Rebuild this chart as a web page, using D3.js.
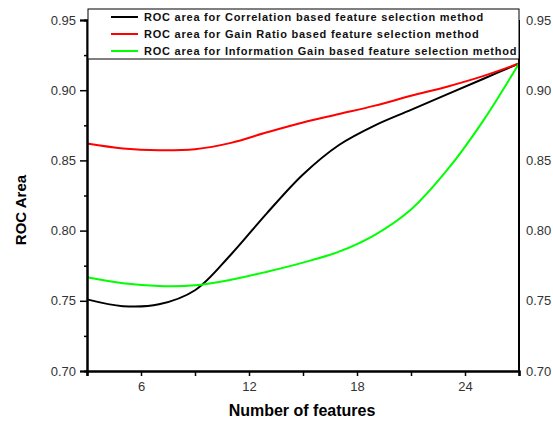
<!DOCTYPE html>
<html>
<head>
<meta charset="utf-8">
<script src="https://cdn.jsdelivr.net/npm/d3@7"></script>
<style>
body { margin: 0; background: #fff; }
svg { display: block; font-family: Arial, "Liberation Sans", sans-serif; }
</style>
</head>
<body>
<svg width="553" height="421"></svg>
<script>
// values
var features = [3, 5, 7, 9, 11, 13, 15, 17, 19, 21, 23, 25, 27];
var correlation = [0.751, 0.7462, 0.7475, 0.7575, 0.783, 0.8125, 0.840, 0.861, 0.875, 0.886, 0.897, 0.908, 0.919];
var gainRatio = [0.862, 0.8585, 0.8572, 0.858, 0.8625, 0.8700, 0.877, 0.883, 0.889, 0.896, 0.9025, 0.910, 0.919];
var infoGain = [0.7667, 0.7625, 0.7605, 0.761, 0.765, 0.7707, 0.7772, 0.785, 0.797, 0.815, 0.843, 0.878, 0.919];

var xTicks = [6, 12, 18, 24];
var xMinor = [3, 9, 15, 21, 27];
var yTicks = [0.70, 0.75, 0.80, 0.85, 0.90, 0.95];
var yMinor = [0.725, 0.775, 0.825, 0.875, 0.925];

var seriesNames = [
  "ROC area for Correlation based feature selection method",
  "ROC area for Gain Ratio based feature selection method",
  "ROC area for Information Gain based feature selection method"
];
var seriesColors = ["#000000", "#ff0000", "#00ff00"];
var seriesValues = [correlation, gainRatio, infoGain];

(function(){
  var svg = d3.select("svg");
  var pLeft = 87, pRight = 519, pTop = 20, pBottom = 371;

  var x = d3.scaleLinear().domain([3, 27]).range([pLeft, pRight]);
  var y = d3.scaleLinear().domain([0.70, 0.95]).range([pBottom, pTop]);

  //curves
  var line = d3.line()
    .x(function(d){ return x(d[0]); })
    .y(function(d){ return y(d[1]); })
    .curve(d3.curveCatmullRom.alpha(0.5));

  seriesValues.forEach(function(vals, i){
    svg.append("path")
      .datum(features.map(function(f, j){ return [f, vals[j]]; }))
      .attr("d", line)
      .attr("fill", "none")
      .attr("stroke", seriesColors[i])
      .attr("stroke-width", 2);
  });

  //axes
  svg.append("g").attr("transform", "translate(0," + pBottom + ")")
    .call(d3.axisBottom(x).tickValues(xTicks).tickSize(5).tickPadding(6).tickFormat(d3.format("d")));
  svg.append("g").attr("transform", "translate(0," + pBottom + ")")
    .call(d3.axisBottom(x).tickValues(xMinor).tickSize(5).tickFormat(""));

  svg.append("g").attr("transform", "translate(" + pLeft + ",0)")
    .call(d3.axisLeft(y).tickValues(yTicks).tickSize(7).tickPadding(4).tickFormat(d3.format(".2f")));
  svg.append("g").attr("transform", "translate(" + pLeft + ",0)")
    .call(d3.axisLeft(y).tickValues(yMinor).tickSize(3).tickFormat(""));

  var yRight = svg.append("g").attr("transform", "translate(" + pRight + ",0)")
    .call(d3.axisRight(y).tickValues(yTicks).tickSize(0).tickPadding(7).tickFormat(d3.format(".2f")));

  svg.selectAll(".domain").attr("stroke", "#000").attr("stroke-width", 2);
  svg.selectAll(".tick line").attr("stroke", "#000").attr("stroke-width", 1.5);
  svg.selectAll(".tick text").attr("fill", "#333").style("font-size", "13px").style("font-family", "Arial, 'Liberation Sans', sans-serif");
  yRight.selectAll(".domain").attr("d", "M0," + pTop + "V" + (pBottom + 1));

  //legend
  var legend = svg.append("g");
  legend.append("rect")
    .attr("x", 88).attr("y", 9)
    .attr("width", pRight - 88).attr("height", 50)
    .attr("fill", "#fff").attr("stroke", "#000").attr("stroke-width", 1);
  seriesNames.forEach(function(name, i){
    var ly = 17 + i * 17;
    legend.append("line")
      .attr("x1", 111).attr("x2", 138)
      .attr("y1", ly).attr("y2", ly)
      .attr("stroke", seriesColors[i]).attr("stroke-width", 2);
    legend.append("text")
      .attr("x", 144).attr("y", ly + 4)
      .style("font-size", "11px").style("font-weight", "bold")
      .style("letter-spacing", "0.77px")
      .attr("fill", "#111")
      .text(name);
  });

  //titles
  svg.append("text")
    .attr("transform", "translate(26,210) rotate(-90)")
    .attr("text-anchor", "middle")
    .style("font-size", "15px").style("font-weight", "bold")
    .text("ROC Area");
  svg.append("text")
    .attr("x", 302).attr("y", 416)
    .attr("text-anchor", "middle")
    .style("font-size", "16px").style("font-weight", "bold")
    .text("Number of features");
})();
</script>
</body>
</html>
